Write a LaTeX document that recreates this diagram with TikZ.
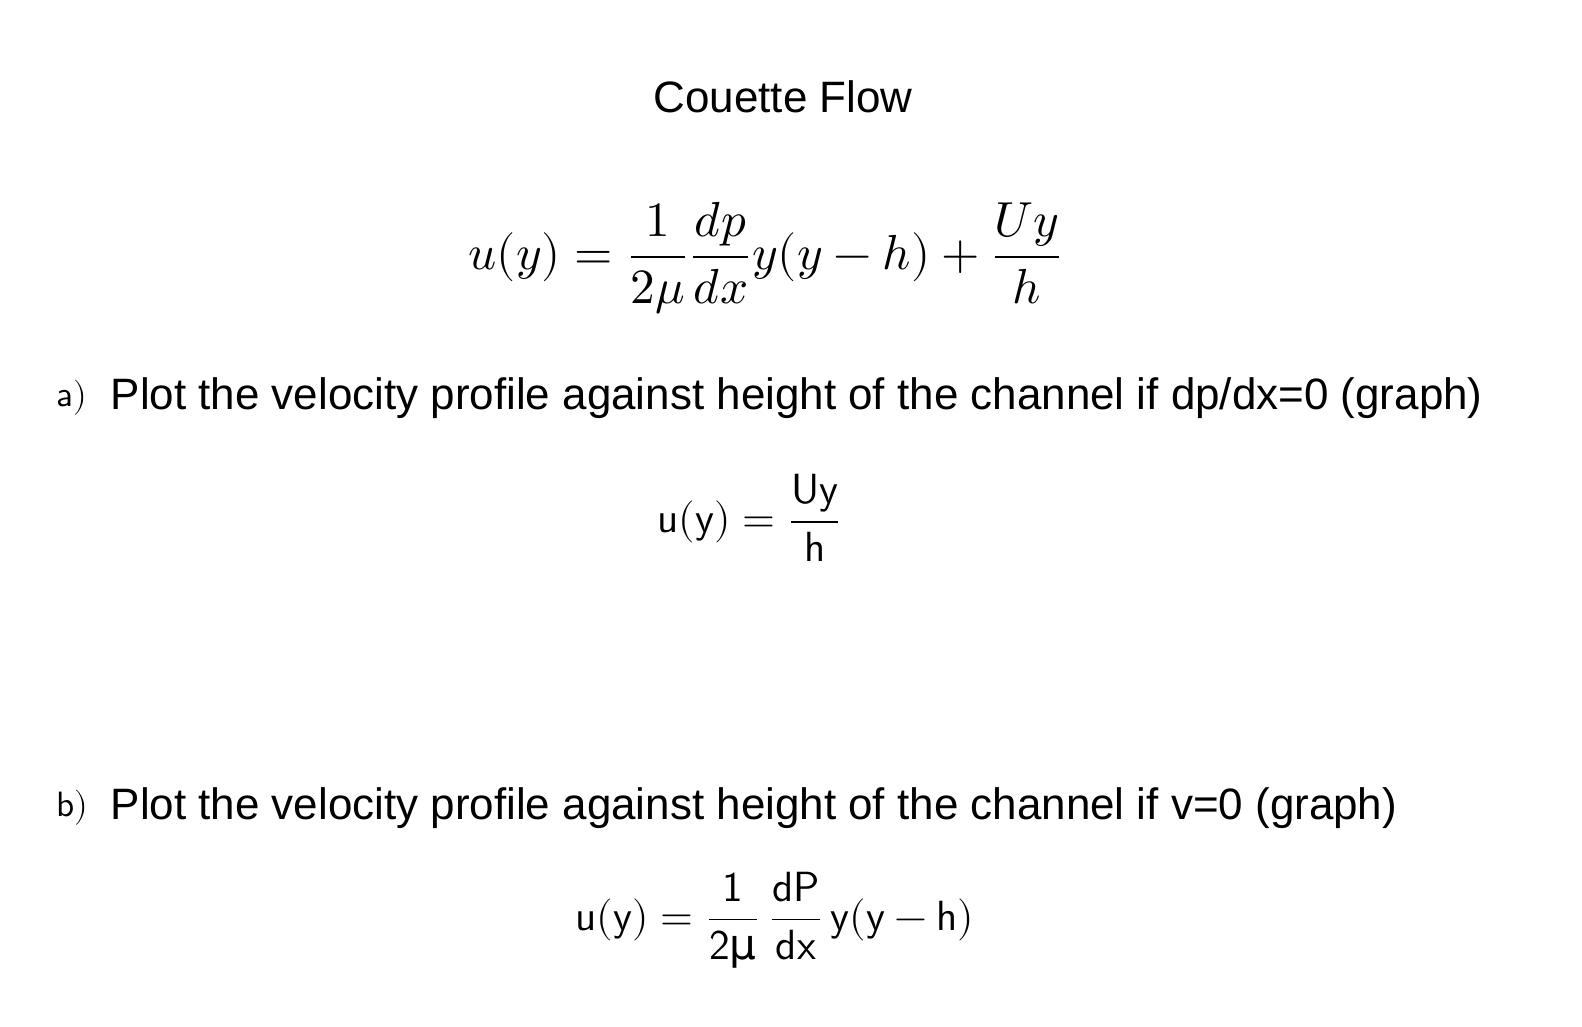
\documentclass[tikz,border=0pt]{standalone}
\usepackage{fontspec}
\setmainfont{Liberation Sans}
\newfontfamily\dejavu{DejaVu Sans}
\usepackage{unicode-math}
\setmathfont{Latin Modern Math}
\begin{document}
\begin{tikzpicture}[x=0.01cm,y=-0.01cm]
\tikzset{body/.style={font=\fontsize{12.5}{14}\selectfont,inner sep=0,anchor=west},
hand/.style={font=\fontsize{10}{12}\selectfont\sffamily,inner sep=0}}
\useasboundingbox (0,0) rectangle (1582,1026);
\node[font=\fontsize{12.5}{14}\selectfont] (title) at (783,97) {Couette Flow};
\node[font=\fontsize{14}{16}\selectfont] (eq) at (766,258) {$u(y)=\dfrac{1}{2\mu}\dfrac{dp}{dx}y(y-h)+\dfrac{Uy}{h}$};
\node[hand] (la) at (72,398) {$\mathsf{a)}$};
\node[body] (ta) at (110,398) {Plot the velocity profile against height of the channel if dp/dx=0 (graph)};
\node[hand,font=\fontsize{12}{14}\selectfont\sffamily] (ea) at (750,518) {$\mathsf{u(y)=\dfrac{Uy}{h}}$};
\node[hand] (lb) at (72,808) {$\mathsf{b)}$};
\node[body] (tb) at (110,808) {Plot the velocity profile against height of the channel if v=0 (graph)};
\node[hand,font=\fontsize{12}{14}\selectfont\sffamily] (eb) at (775,920) {$\mathsf{u(y)=\dfrac{1}{2\text{\dejavu μ}}\,\dfrac{dP}{dx}\,y(y-h)}$};
\end{tikzpicture}
\end{document}
